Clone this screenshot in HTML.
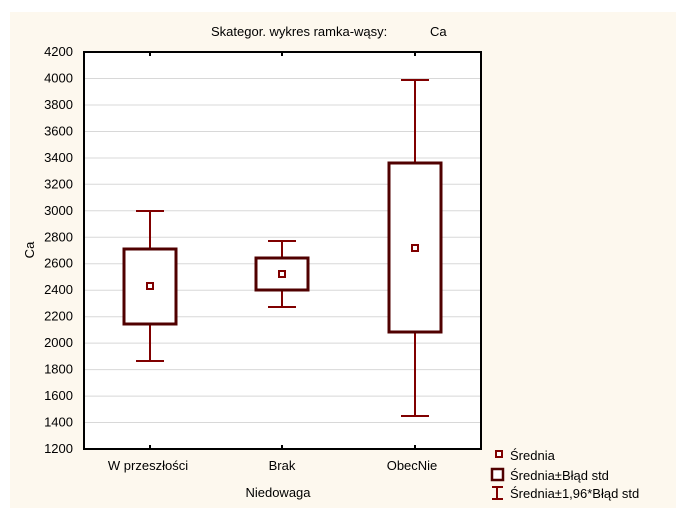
<!DOCTYPE html>
<html><head><meta charset="utf-8"><style>
body{margin:0;background:#fff;width:679px;height:510px;overflow:hidden}
text{font-family:"Liberation Sans",sans-serif;font-size:13px;fill:#000}
</style></head><body>
<svg width="679" height="510" xmlns="http://www.w3.org/2000/svg">
<rect x="10" y="12" width="666" height="496" fill="#fdf8ee"/>
<rect x="84" y="52" width="397" height="397" fill="#fff"/>
<g stroke="#d8d8d8" stroke-width="1">
<line x1="84" x2="481" y1="78.5" y2="78.5"/><line x1="84" x2="481" y1="105" y2="105"/>
<line x1="84" x2="481" y1="131.5" y2="131.5"/><line x1="84" x2="481" y1="158" y2="158"/>
<line x1="84" x2="481" y1="184.3" y2="184.3"/><line x1="84" x2="481" y1="210.8" y2="210.8"/>
<line x1="84" x2="481" y1="237.3" y2="237.3"/><line x1="84" x2="481" y1="263.7" y2="263.7"/>
<line x1="84" x2="481" y1="290.2" y2="290.2"/><line x1="84" x2="481" y1="316.7" y2="316.7"/>
<line x1="84" x2="481" y1="343.1" y2="343.1"/><line x1="84" x2="481" y1="369.6" y2="369.6"/>
<line x1="84" x2="481" y1="396.1" y2="396.1"/><line x1="84" x2="481" y1="422.5" y2="422.5"/>
</g>
<rect x="84" y="52" width="397" height="397" fill="none" stroke="#000" stroke-width="2"/>
<g stroke="#000" stroke-width="2">
<line x1="150" x2="150" y1="52" y2="56"/><line x1="282" x2="282" y1="52" y2="56"/><line x1="415" x2="415" y1="52" y2="56"/>
<line x1="150" x2="150" y1="449" y2="445"/><line x1="282" x2="282" y1="449" y2="445"/><line x1="415" x2="415" y1="449" y2="445"/>
</g>
<g text-anchor="end">
<text x="73" y="56">4200</text><text x="73" y="82.5">4000</text><text x="73" y="109">3800</text>
<text x="73" y="135.5">3600</text><text x="73" y="162">3400</text><text x="73" y="188.3">3200</text>
<text x="73" y="214.8">3000</text><text x="73" y="241.3">2800</text><text x="73" y="267.7">2600</text>
<text x="73" y="294.2">2400</text><text x="73" y="320.7">2200</text><text x="73" y="347.1">2000</text>
<text x="73" y="373.6">1800</text><text x="73" y="400.1">1600</text><text x="73" y="426.5">1400</text>
<text x="73" y="453">1200</text>
</g>
<text x="211" y="36">Skategor. wykres ramka-wąsy:</text><text x="430" y="36">Ca</text>
<text x="34" y="250" transform="rotate(-90 34 250)" text-anchor="middle">Ca</text>
<g text-anchor="middle">
<text x="148" y="470">W przeszłości</text><text x="282" y="470">Brak</text><text x="412" y="470">ObecNie</text>
<text x="278" y="497">Niedowaga</text>
</g>
<g stroke="#800000" stroke-width="2" fill="none">
<line x1="150" x2="150" y1="211" y2="361"/><line x1="136" x2="164" y1="211" y2="211"/><line x1="136" x2="164" y1="361" y2="361"/>
<line x1="282" x2="282" y1="241" y2="307"/><line x1="268" x2="296" y1="241" y2="241"/><line x1="268" x2="296" y1="307" y2="307"/>
<line x1="415" x2="415" y1="80" y2="416"/><line x1="401" x2="429" y1="80" y2="80"/><line x1="401" x2="429" y1="416" y2="416"/>
</g>
<g stroke="#500000" stroke-width="3" fill="#fff">
<rect x="124" y="249" width="52" height="75"/>
<rect x="256" y="258" width="52" height="32"/>
<rect x="389" y="163" width="52" height="169"/>
</g>
<g stroke="#800000" stroke-width="2" fill="#fff">
<rect x="147" y="283" width="6" height="6"/>
<rect x="279" y="271" width="6" height="6"/>
<rect x="412" y="245" width="6" height="6"/>
</g>
<rect x="496" y="451" width="6" height="6" stroke="#800000" stroke-width="2" fill="#fff"/>
<text x="510" y="460">Średnia</text>
<rect x="492" y="469" width="11" height="11" stroke="#500000" stroke-width="2.5" fill="#fff"/>
<text x="510" y="480">Średnia±Błąd std</text>
<g stroke="#800000" stroke-width="2"><line x1="497" x2="497" y1="487" y2="499"/><line x1="492" x2="503" y1="487" y2="487"/><line x1="492" x2="503" y1="499" y2="499"/></g>
<text x="510" y="498">Średnia±1,96*Błąd std</text>
</svg>
</body></html>
